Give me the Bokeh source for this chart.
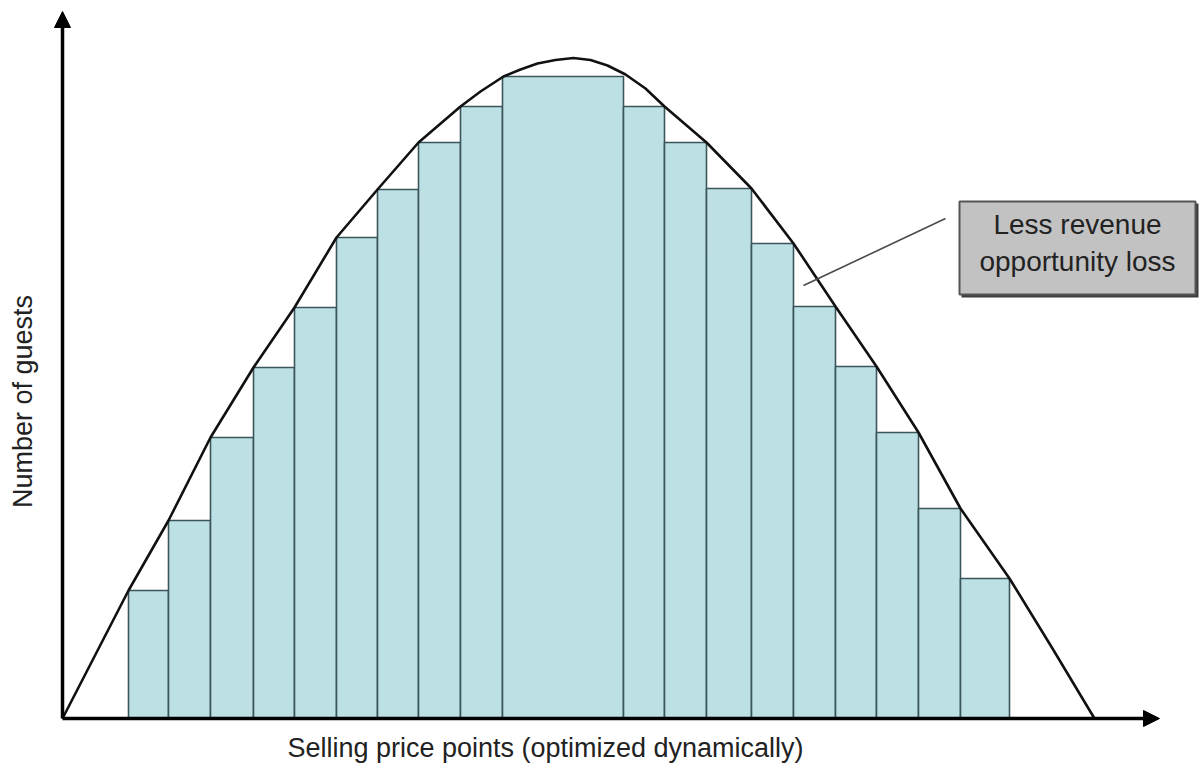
from bokeh.plotting import figure
from bokeh.models import Range1d, Arrow, NormalHead, Label
from bokeh.embed import file_html
from bokeh.resources import INLINE
import math

# ---- data (x = price position, y = number of guests) ----
bar_left = [66, 106, 148, 191, 232, 274, 315, 356, 398, 440,
            561, 602, 644, 689, 731, 773, 814, 856, 898]
bar_right = bar_left[1:] + [947]
guests = [128, 198, 281, 351, 411, 481, 529, 576, 612, 642,
          612, 576, 530, 475, 412, 352, 286, 210, 140]

curve_x = [0, 33, 66, 106, 148, 191, 232, 274, 315, 356, 398, 418, 441, 458,
           475, 493, 511, 528, 545, 563, 583, 602, 644, 689, 731, 773, 814, 856,
           898, 947, 990, 1032]
curve_y = [0, 64, 128, 198, 281, 351, 411, 481, 529, 576, 612, 627, 642, 649,
           655, 658.5, 660.5, 658.5, 653, 644, 630, 612, 576, 530, 475, 412, 352, 286,
           210, 140, 70, 0]

x_label = "Selling price points (optimized dynamically)"
y_label = "Number of guests"
callout_lines = ["Less revenue", "opportunity loss"]

FONT = "Liberation Sans"

p = figure(width=1201, height=772, output_backend="svg", toolbar_location=None,
           x_range=Range1d(-62, 1139), y_range=Range1d(-54, 718),
           min_border=0, outline_line_color=None)
p.axis.visible = False
p.grid.visible = False
p.background_fill_color = "white"
p.border_fill_color = "white"

# bars
p.quad(left=bar_left, right=bar_right, bottom=0, top=guests,
       fill_color="#bce0e3", line_color="#3b565b", line_width=1.6)

# demand curve
p.line(curve_x, curve_y, line_color="#111111", line_width=2.6, line_join="round")

# axes with arrows
p.add_layout(Arrow(end=NormalHead(size=16, fill_color="black", line_color="black"),
                   x_start=0, y_start=0, x_end=0, y_end=707,
                   line_width=3.5, line_color="black"))
p.add_layout(Arrow(end=NormalHead(size=16, fill_color="black", line_color="black"),
                   x_start=0, y_start=0, x_end=1097, y_end=0,
                   line_width=3.5, line_color="black"))

# axis labels
p.add_layout(Label(x=483, y=-29, text=x_label, text_align="center",
                   text_baseline="middle", text_font=FONT, text_font_size="27px",
                   text_color="#222222"))
p.add_layout(Label(x=-40, y=317, text=y_label, text_align="center",
                   text_baseline="middle", text_font=FONT, text_font_size="27px",
                   text_color="#222222", angle=math.pi / 2))

# callout leader line
p.segment(x0=[883], y0=[500], x1=[741], y1=[433], line_color="#4a4a4a", line_width=1.6)

# callout box
p.quad(left=[899], right=[1136], bottom=[421], top=[515],
       fill_color="#3c3c3c", line_color=None)
p.quad(left=[897], right=[1133], bottom=[424], top=[517],
       fill_color="#c2c2c2", line_color="#555555", line_width=2)
p.add_layout(Label(x=1015, y=494, text=callout_lines[0], text_align="center",
                   text_baseline="middle", text_font=FONT, text_font_size="28px",
                   text_color="#222222"))
p.add_layout(Label(x=1015, y=457, text=callout_lines[1], text_align="center",
                   text_baseline="middle", text_font=FONT, text_font_size="28px",
                   text_color="#222222"))

open("out.html", "w").write(file_html(p, INLINE))
